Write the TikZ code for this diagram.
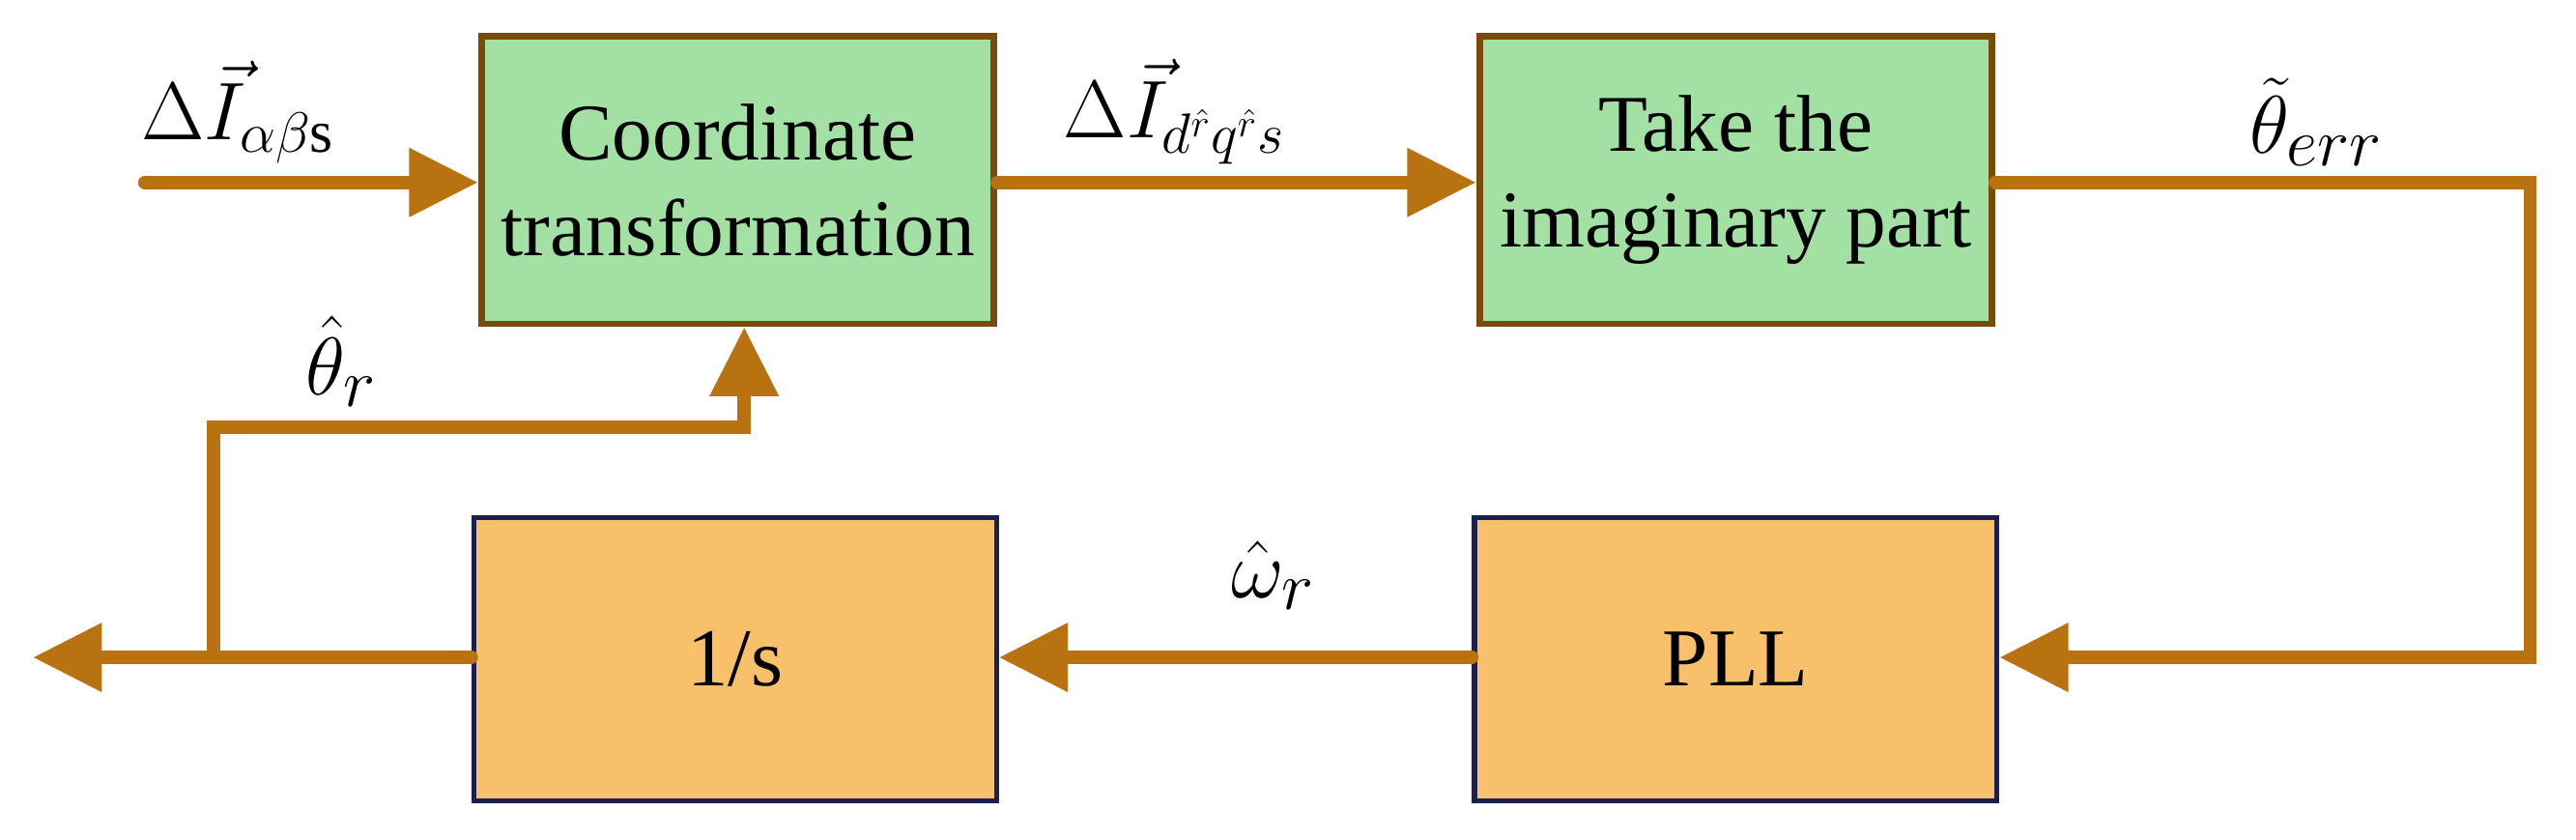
\documentclass[tikz,border=0pt]{standalone}
\usepackage{fontspec}
\setmainfont{Liberation Serif}
\usetikzlibrary{arrows.meta}
\definecolor{gfill}{HTML}{A3E0A3}
\definecolor{gdraw}{HTML}{7A4A0A}
\definecolor{ofill}{HTML}{F8C06A}
\definecolor{odraw}{HTML}{1A2050}
\definecolor{arr}{HTML}{B87310}
\begin{document}
\begin{tikzpicture}[x=0.5pt,y=-0.5pt,
  gbox/.style={draw=gdraw,fill=gfill,line width=2pt,minimum width=156pt,minimum height=87.5pt,align=center,font=\fontsize{24.5}{29}\selectfont,inner sep=0pt},
  obox/.style={draw=odraw,fill=ofill,line width=1.5pt,minimum width=159pt,minimum height=86pt,align=center,font=\fontsize{25}{30}\selectfont,inner sep=0pt},
  flow/.style={draw=arr,line width=4pt,line cap=round,-{Triangle[length=21pt,width=20pt]}},
  lab/.style={font=\fontsize{26}{30}\selectfont},
  blab/.style={font=\fontsize{31}{34}\selectfont}]
\useasboundingbox (0,0) rectangle (1568,511);
\node[gbox] (ct) at (449,109.5) {Coordinate\\transformation};
\node[gbox] (im) at (1056.5,109.5) {Take the\\imaginary part};
\node[obox] (in) at (447.5,401) {1/s};
\node[obox] (pll) at (1056.5,401) {PLL};
\coordinate (src) at (88,111);
\coordinate (r1) at (1540,111);
\coordinate (r2) at (1540,400);
\coordinate (out) at (20,400);
\coordinate (br) at (130,400);
\coordinate (b1) at (130,260);
\coordinate (b2) at (453,260);
\draw[flow] (src) -- (src -| ct.west);
\draw[flow] (ct.east |- 0,111) -- (im.west |- 0,111);
\draw[flow] (im.east |- 0,111) -- (r1) -- (r2) -- (pll.east |- r2);
\draw[flow] (pll.west |- 0,400) -- (in.east |- 0,400);
\draw[flow] (in.west |- 0,400) -- (out);
\draw[flow] (br) -- (b1) -- (b2) -- (b2 |- ct.south);
\node[lab] (l1) at (145,68) {$\Delta\vec{I}_{\alpha\beta\mathrm{s}}$};
\node[lab] (l2) at (715,68) {$\Delta\vec{I}_{d^{\hat r}q^{\hat r}s}$};
\node[blab] (l3) at (1410,74) {$\tilde{\theta}_{err}$};
\node[blab] (l4) at (208,220) {$\hat{\theta}_{r}$};
\node[blab] (l5) at (775,350) {$\hat{\omega}_{r}$};
\end{tikzpicture}
\end{document}
